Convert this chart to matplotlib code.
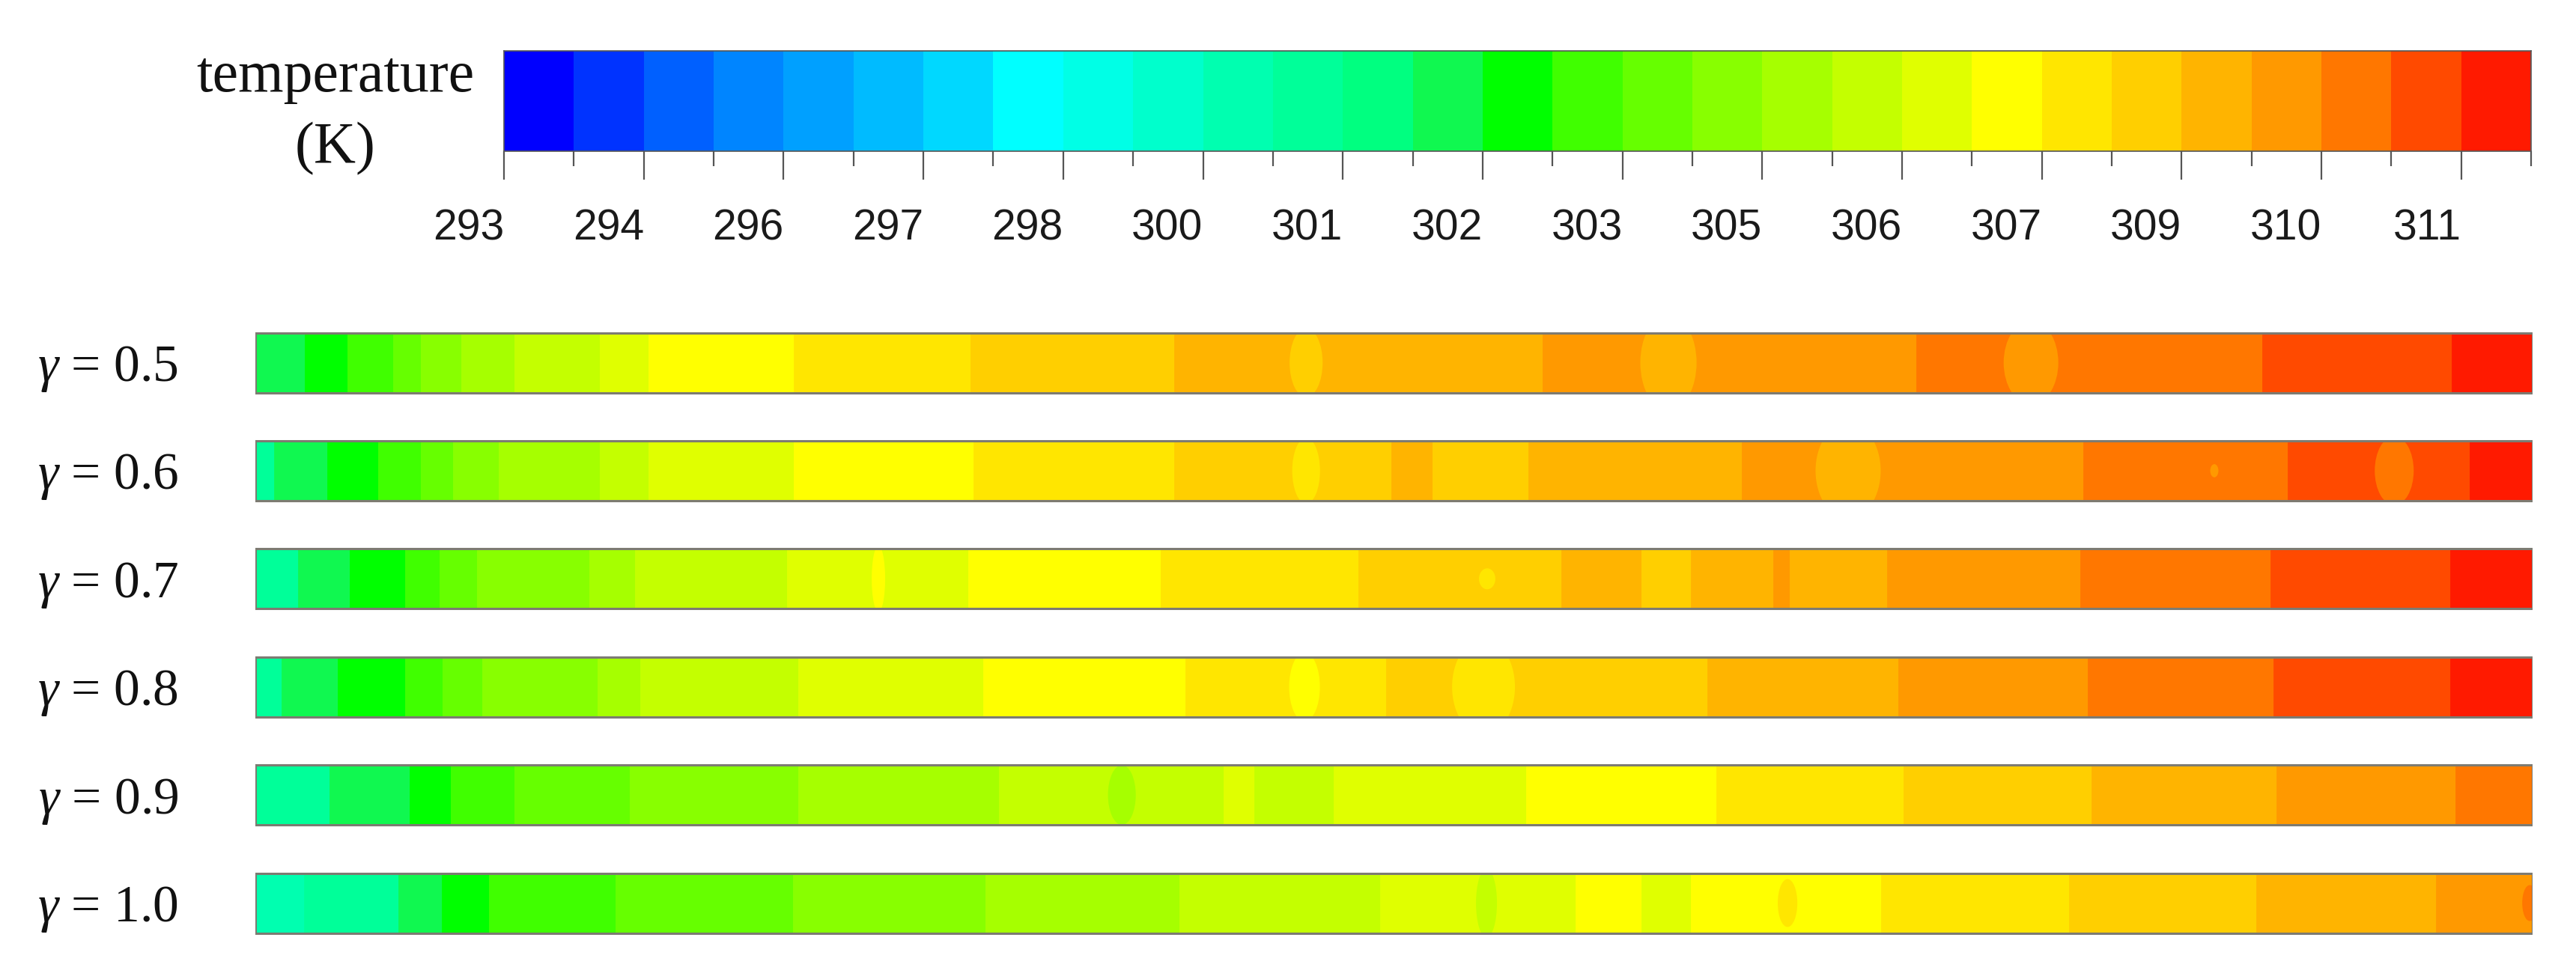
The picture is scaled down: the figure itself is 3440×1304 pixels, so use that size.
import numpy as np
import matplotlib
matplotlib.use("Agg")
import matplotlib.pyplot as plt
from matplotlib.colors import ListedColormap, BoundaryNorm
from matplotlib.patches import Ellipse, Rectangle

plt.rcParams['mathtext.fontset'] = 'custom'
plt.rcParams['mathtext.it'] = 'Liberation Serif:italic'
plt.rcParams['mathtext.rm'] = 'Liberation Serif'

# ---------------- colour scale (temperature, K) ----------------
level_min = 293.0
level_step = 0.65
n_levels = 29
tick_labels = ["293", "294", "296", "297", "298", "300", "301", "302",
               "303", "305", "306", "307", "309", "310", "311"]
band_colors = ['#0000ff', '#0033ff', '#0060ff', '#0085ff', '#00a0ff', '#00bbff',
               '#00d8ff', '#00ffff', '#00ffe6', '#00ffcc', '#00ffb0', '#00ff99',
               '#00ff80', '#10f850', '#00ff00', '#40ff00', '#66ff00', '#88ff00',
               '#a6ff00', '#c4ff00', '#e0ff00', '#ffff00', '#ffe600', '#ffcf00',
               '#ffb400', '#ff9900', '#ff7700', '#ff4a00', '#ff1a00']

# ---------------- rows ----------------
gammas = [0.5, 0.6, 0.7, 0.8, 0.9, 1.0]

# segment edges along the channel (0..1000) and segment temperatures (K)
edges_05 = [0, 21.7, 40.4, 60.5, 72.7, 90.4, 113.8, 151.3, 172.6, 236.4, 314.0,
            403.5, 565.3, 729.4, 881.3, 964.5, 1000]
temps_05 = [301.8, 302.4, 303.1, 303.7, 304.4, 305.0, 305.7, 306.3, 307.0, 307.6,
            308.3, 308.9, 309.6, 310.2, 310.9, 311.5]

edges_06 = [0, 8.2, 31.6, 53.9, 72.7, 86.8, 106.9, 151.3, 172.6, 236.4, 315.4,
            403.5, 498.9, 516.9, 559.0, 652.8, 802.7, 892.5, 972.4, 1000]
temps_06 = [300.5, 301.8, 302.4, 303.1, 303.7, 304.4, 305.0, 305.7, 306.3, 307.0,
            307.6, 308.3, 308.9, 308.3, 308.9, 309.6, 310.2, 310.9, 311.5]

edges_07 = [0, 18.7, 41.4, 65.8, 80.9, 97.3, 146.7, 166.7, 233.5, 313.1, 397.6,
            484.4, 573.5, 608.7, 630.4, 666.6, 673.8, 716.5, 801.4, 884.9, 963.8, 1000]
temps_07 = [300.5, 301.8, 302.4, 303.1, 303.7, 304.4, 305.0, 305.7, 306.3, 307.0,
            307.6, 308.3, 308.9, 308.3, 308.9, 309.6, 308.9, 309.6, 310.2, 310.9, 311.5]

edges_08 = [0, 11.5, 36.2, 65.8, 82.2, 99.6, 150.3, 169.0, 238.4, 319.6, 408.4,
            496.5, 637.6, 721.5, 804.7, 886.2, 963.8, 1000]
temps_08 = [300.5, 301.8, 302.4, 303.1, 303.7, 304.4, 305.0, 305.7, 306.3, 307.0,
            307.6, 308.3, 308.9, 309.6, 310.2, 310.9, 311.5]

edges_09 = [0, 32.6, 67.7, 85.8, 113.8, 164.4, 238.4, 326.5, 425.2, 438.7, 473.5,
            558.0, 641.6, 723.8, 806.3, 887.5, 966.1, 1000]
temps_09 = [300.5, 301.8, 302.4, 303.1, 303.7, 304.4, 305.0, 305.7, 306.3, 305.7,
            306.3, 307.0, 307.6, 308.3, 308.9, 309.6, 310.2]

edges_10 = [0, 21.4, 62.8, 81.9, 102.6, 158.2, 236.1, 320.6, 405.8, 493.9, 579.7,
            608.7, 630.4, 713.9, 796.5, 878.7, 957.6, 1000]
temps_10 = [299.8, 300.5, 301.8, 302.4, 303.1, 303.7, 304.4, 305.0, 305.7, 306.3,
            307.0, 306.3, 307.0, 307.6, 308.3, 308.9, 309.6]

# isolated pockets: (centre, width, height as fraction of strip, temperature)
blobs_05 = [(461.4, 14.5, 1.15, 308.3), (620.5, 24.7, 1.6, 308.9), (779.7, 24.0, 1.4, 309.6)]
blobs_06 = [(461.4, 12.2, 1.1, 307.6), (699.4, 28.6, 1.6, 308.9),
            (860.2, 3.6, 0.22, 309.6), (939.2, 17.1, 1.15, 310.2)]
blobs_07 = [(273.6, 5.9, 1.1, 307.0), (540.9, 7.2, 0.35, 307.6)]
blobs_08 = [(460.7, 13.5, 1.15, 307.0), (539.3, 27.6, 1.6, 307.6)]
blobs_09 = [(380.5, 12.2, 1.0, 305.0)]
blobs_10 = [(540.6, 9.2, 1.15, 305.7), (672.8, 8.6, 0.8, 307.6), (998.7, 6.6, 0.6, 310.2)]

rows = [(edges_05, temps_05, blobs_05), (edges_06, temps_06, blobs_06),
        (edges_07, temps_07, blobs_07), (edges_08, temps_08, blobs_08),
        (edges_09, temps_09, blobs_09), (edges_10, temps_10, blobs_10)]

# ---------------- figure ----------------
fig = plt.figure(figsize=(34.41, 13.04), dpi=100)
cmap = ListedColormap(band_colors)
levels = level_min + level_step * np.arange(n_levels + 1)
norm = BoundaryNorm(levels, cmap.N)

# colour bar
ax_cb = fig.add_axes([0.1956, 0.8451, 0.7867, 0.1028])
centers = levels[:-1] + level_step / 2
ax_cb.pcolormesh(levels, [0, 1], centers[None, :], cmap=cmap, norm=norm)
ax_cb.set_xlim(levels[0], levels[-1])
ax_cb.set_ylim(0, 1)
ax_cb.set_yticks([])
ax_cb.set_xticks(levels[::2])
ax_cb.set_xticks(levels[1::2], minor=True)
ax_cb.set_xticklabels(tick_labels, ha='right', family='Liberation Sans', color='#1a1a1a')
ax_cb.tick_params(axis='x', which='major', length=27.4, width=1.6, color='#555555',
                  labelsize=41, pad=28)
ax_cb.tick_params(axis='x', which='minor', length=14.4, width=1.6, color='#555555')
for sp in ax_cb.spines.values():
    sp.set_color('#555555')
    sp.set_linewidth(1.2)

fig.text(0.1302, 0.9064, "temperature", ha='center', va='baseline', fontsize=56,
         family='Liberation Serif', color='#111111')
fig.text(0.1302, 0.8336, "(K)", ha='center', va='baseline', fontsize=56,
         family='Liberation Serif', color='#111111')

# strips
ax = fig.add_axes([0.0991, 0.0194, 0.8838, 0.6644])
ax.set_xlim(0, 1000)
ax.set_ylim(5.5, -0.5)
ax.axis('off')
bar_h = 0.554
for i, (g, (edges, temps, blobs)) in enumerate(zip(gammas, rows)):
    e = np.asarray(edges)
    cols = cmap(norm(np.asarray(temps)))
    ax.barh(i, np.diff(e), left=e[:-1], height=bar_h, color=cols,
            edgecolor=cols, linewidth=0.6, zorder=1)
    clip = Rectangle((0, i - bar_h / 2), 1000, bar_h, transform=ax.transData)
    for (bx, bw, bh, bt) in blobs:
        el = Ellipse((bx, i), bw, bh * bar_h, facecolor=cmap(norm(bt)),
                     edgecolor='none', zorder=2)
        ax.add_patch(el)
        el.set_clip_path(clip)
    ax.add_patch(Rectangle((0, i - bar_h / 2), 1000, bar_h, fill=False,
                           edgecolor='#7d7b72', linewidth=2.2, zorder=3))
    ax.text(-33.9, i + 0.17, r"$\gamma$" + " = %.1f" % g, ha='right', va='baseline',
            fontsize=50, family='Liberation Serif', color='#111111', clip_on=False)

fig.savefig('out.png', dpi=100)
